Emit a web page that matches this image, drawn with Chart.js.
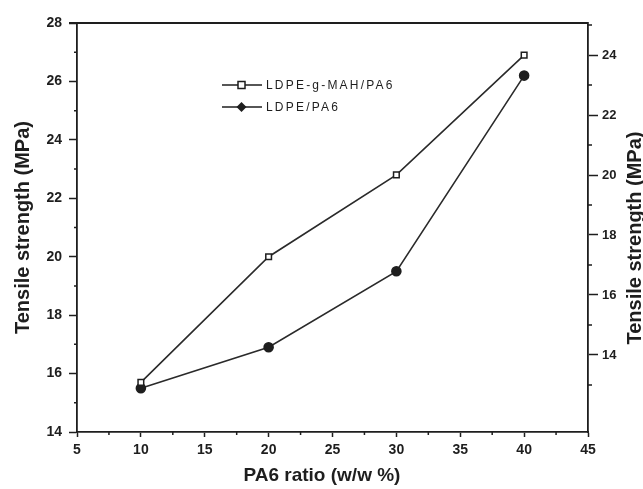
<!DOCTYPE html>
<html>
<head>
<meta charset="utf-8">
<script src="https://cdn.jsdelivr.net/npm/chart.js@4.4.0/dist/chart.umd.min.js"></script>
<style>
  body { margin: 0; background: #fff; }
  #wrap { width: 643px; height: 489px; }
</style>
</head>
<body>
<div id="wrap"><canvas id="chart"></canvas></div>
<script>
const ratios = [10, 20, 30, 40];
const graftedStrength = [15.7, 20.0, 22.8, 26.9];
const blendStrength = [15.5, 16.9, 19.5, 26.2];
const seriesNames = ['LDPE-g-MAH/PA6', 'LDPE/PA6'];
const yTitle = 'Tensile strength (MPa)';

const xMajor = [5, 10, 15, 20, 25, 30, 35, 40, 45];
const xMinor = [7.5, 12.5, 17.5, 22.5, 27.5, 32.5, 37.5, 42.5];
const leftMajor = [14, 16, 18, 20, 22, 24, 26, 28];
const leftMinor = [15, 17, 19, 21, 23, 25, 27];
const rightMajor = [14, 16, 18, 20, 22, 24];
const rightMinor = [13, 15, 17, 19, 21, 23, 25];

const ink = '#1e1e1e';
const family = 'Liberation Sans, Arial, sans-serif';
const tickFont = { family: family, size: 14, weight: 'bold' };
const rightTickFont = { family: family, size: 13, weight: 'bold' };
const xTitleFont = { family: family, size: 19, weight: 'bold', lineHeight: 1 };
const yTitleFont = { family: family, size: 20, weight: 'bold', lineHeight: 1 };

const fixedTicks = values => s => { s.ticks = values.map(v => ({ value: v })); };

// frame on top, short minor ticks, right title and the legend drawn by hand
const extras = {
  id: 'extras',
  afterDraw(chart) {
    const ctx = chart.ctx;
    const a = chart.chartArea;
    const sx = chart.scales.x, sy = chart.scales.y, sy2 = chart.scales.y2;
    ctx.save();
    ctx.strokeStyle = ink;
    ctx.lineWidth = 1.8;
    ctx.beginPath();
    ctx.moveTo(a.left - 8, a.top);
    ctx.lineTo(a.right, a.top);
    ctx.stroke();

    ctx.lineWidth = 1.5;
    ctx.beginPath();
    xMinor.forEach(v => {
      const px = sx.getPixelForValue(v);
      ctx.moveTo(px, a.bottom);
      ctx.lineTo(px, a.bottom + 3);
    });
    leftMinor.forEach(v => {
      const py = sy.getPixelForValue(v);
      ctx.moveTo(a.left - 3, py);
      ctx.lineTo(a.left, py);
    });
    rightMinor.forEach(v => {
      const py = sy2.getPixelForValue(v);
      ctx.moveTo(a.right, py);
      ctx.lineTo(a.right + 4, py);
    });
    ctx.stroke();

    // right axis title reads bottom to top like the left one
    ctx.save();
    ctx.translate(635, 238);
    ctx.rotate(-Math.PI / 2);
    ctx.font = 'bold 20px ' + family;
    ctx.fillStyle = ink;
    ctx.textAlign = 'center';
    ctx.textBaseline = 'middle';
    ctx.fillText(yTitle, 0, 0);
    ctx.restore();

    const rows = [85, 107];
    ctx.font = '12px ' + family;
    ctx.letterSpacing = '2.2px';
    ctx.textBaseline = 'middle';
    rows.forEach((y, i) => {
      ctx.strokeStyle = ink;
      ctx.lineWidth = 1.5;
      ctx.beginPath();
      ctx.moveTo(222, y);
      ctx.lineTo(262, y);
      ctx.stroke();
      if (i === 0) {
        ctx.fillStyle = '#fff';
        ctx.fillRect(238, y - 3.5, 7, 7);
        ctx.strokeRect(238, y - 3.5, 7, 7);
      } else {
        ctx.fillStyle = ink;
        ctx.beginPath();
        ctx.moveTo(241.5, y - 5);
        ctx.lineTo(246.5, y);
        ctx.lineTo(241.5, y + 5);
        ctx.lineTo(236.5, y);
        ctx.closePath();
        ctx.fill();
      }
      ctx.fillStyle = ink;
      ctx.fillText(seriesNames[i], 266, y + 1);
    });
    ctx.restore();
  }
};

new Chart(document.getElementById('chart'), {
  type: 'line',
  data: {
    datasets: [
      {
        label: seriesNames[0],
        data: ratios.map((x, i) => ({ x: x, y: graftedStrength[i] })),
        borderColor: '#2a2a2a',
        borderWidth: 1.6,
        pointStyle: 'rect',
        pointRadius: 4,
        pointBackgroundColor: '#fff',
        pointBorderColor: ink,
        pointBorderWidth: 1.5,
        tension: 0,
        yAxisID: 'y'
      },
      {
        label: seriesNames[1],
        data: ratios.map((x, i) => ({ x: x, y: blendStrength[i] })),
        borderColor: '#2a2a2a',
        borderWidth: 1.6,
        pointStyle: 'circle',
        pointRadius: 4.5,
        pointBackgroundColor: ink,
        pointBorderColor: ink,
        tension: 0,
        yAxisID: 'y'
      }
    ]
  },
  options: {
    responsive: true,
    maintainAspectRatio: false,
    animation: false,
    devicePixelRatio: 1,
    layout: { padding: { top: 23, left: 0, right: 0, bottom: 0 } },
    plugins: { legend: { display: false }, tooltip: { enabled: false } },
    scales: {
      x: {
        type: 'linear',
        min: 5,
        max: 45,
        afterFit: s => { s.height = 57; },
        afterBuildTicks: fixedTicks(xMajor),
        ticks: { autoSkip: false, maxRotation: 0, padding: 5, color: ink, font: tickFont },
        grid: { drawOnChartArea: false, tickLength: 5, tickColor: ink, tickWidth: 1.5 },
        border: { color: ink, width: 1.8 },
        title: {
          display: true,
          text: 'PA6 ratio (w/w %)\u00a0\u00a0\u00a0\u00a0',
          color: ink, font: xTitleFont, padding: { top: 0, bottom: 4 }
        }
      },
      y: {
        position: 'left',
        min: 14,
        max: 28,
        afterFit: s => { s.width = 77; },
        afterBuildTicks: fixedTicks(leftMajor),
        ticks: { autoSkip: false, padding: 7, color: ink, font: tickFont },
        grid: { drawOnChartArea: false, tickLength: 8, tickColor: ink, tickWidth: 1.5 },
        border: { color: ink, width: 1.8 },
        title: { display: true, text: yTitle, color: ink, font: yTitleFont, padding: { top: 13, bottom: 0 } }
      },
      y2: {
        position: 'right',
        min: 11.43,
        max: 25.07,
        afterFit: s => { s.width = 55; },
        afterBuildTicks: fixedTicks(rightMajor),
        ticks: { autoSkip: false, padding: 4, color: ink, font: rightTickFont },
        grid: { drawOnChartArea: false, tickLength: 10, tickColor: ink, tickWidth: 1.5 },
        border: { color: ink, width: 1.8 },
        title: { display: false }
      }
    }
  },
  plugins: [extras]
});
</script>
</body>
</html>
